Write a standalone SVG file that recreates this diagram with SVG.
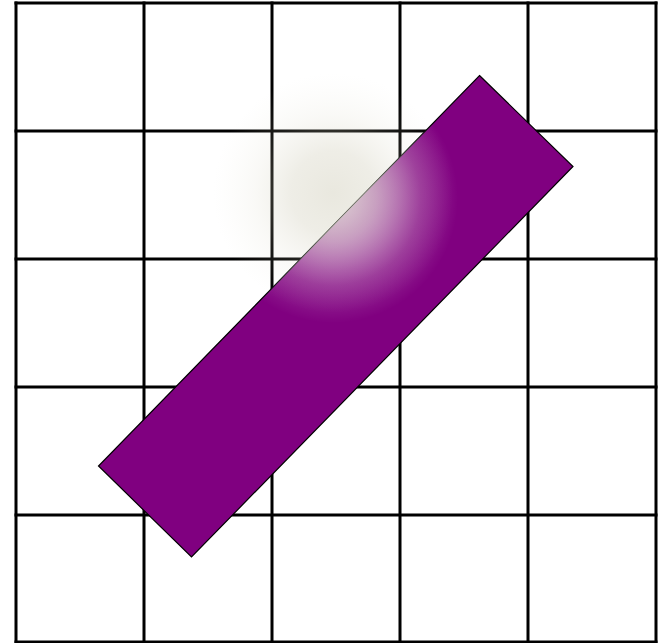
<svg xmlns="http://www.w3.org/2000/svg" width="666" height="643" viewBox="0 0 666 643">
  <style>
    .grid line { stroke: #000; stroke-width: 3; }
    .bar { fill: #800080; stroke: #000; stroke-width: 1.2; }
  </style>
  <defs>
    <radialGradient id="glow" cx="333" cy="193" r="120" gradientUnits="userSpaceOnUse">
      <stop offset="0" stop-color="#cbc8b2" stop-opacity="0.42"/>
      <stop offset="0.35" stop-color="#cbc8b2" stop-opacity="0.32"/>
      <stop offset="0.65" stop-color="#d6d3c0" stop-opacity="0.14"/>
      <stop offset="1" stop-color="#e6e4d6" stop-opacity="0"/>
    </radialGradient>
    <radialGradient id="hi" cx="333" cy="198" r="125" gradientUnits="userSpaceOnUse">
      <stop offset="0" stop-color="#ffffff" stop-opacity="0.85"/>
      <stop offset="0.35" stop-color="#ffffff" stop-opacity="0.55"/>
      <stop offset="0.7" stop-color="#ffffff" stop-opacity="0.18"/>
      <stop offset="1" stop-color="#ffffff" stop-opacity="0"/>
    </radialGradient>
    <clipPath id="barclip">
      <polygon points="479.5,75.5 573,166.5 191.5,557 98.5,466"/>
    </clipPath>
  </defs>
  <rect width="666" height="643" fill="#fff"/>
  <g id="grid" class="grid">
    <line x1="16" y1="1.5" x2="16" y2="643"/>
    <line x1="144" y1="1.5" x2="144" y2="643"/>
    <line x1="272" y1="1.5" x2="272" y2="643"/>
    <line x1="400" y1="1.5" x2="400" y2="643"/>
    <line x1="528" y1="1.5" x2="528" y2="643"/>
    <line x1="656" y1="1.5" x2="656" y2="643"/>
    <line x1="14.5" y1="3" x2="657.5" y2="3"/>
    <line x1="14.5" y1="131" x2="657.5" y2="131"/>
    <line x1="14.5" y1="259" x2="657.5" y2="259"/>
    <line x1="14.5" y1="387" x2="657.5" y2="387"/>
    <line x1="14.5" y1="515" x2="657.5" y2="515"/>
    <line x1="14.5" y1="642" x2="657.5" y2="642"/>
  </g>
  <g id="bar">
    <polygon class="bar" points="479.5,75.5 573,166.5 191.5,557 98.5,466"/>
    <rect x="200" y="60" width="280" height="280" fill="url(#hi)" clip-path="url(#barclip)"/>
  </g>
  <g id="light">
    <circle cx="333" cy="193" r="120" fill="url(#glow)"/>
  </g>
</svg>
